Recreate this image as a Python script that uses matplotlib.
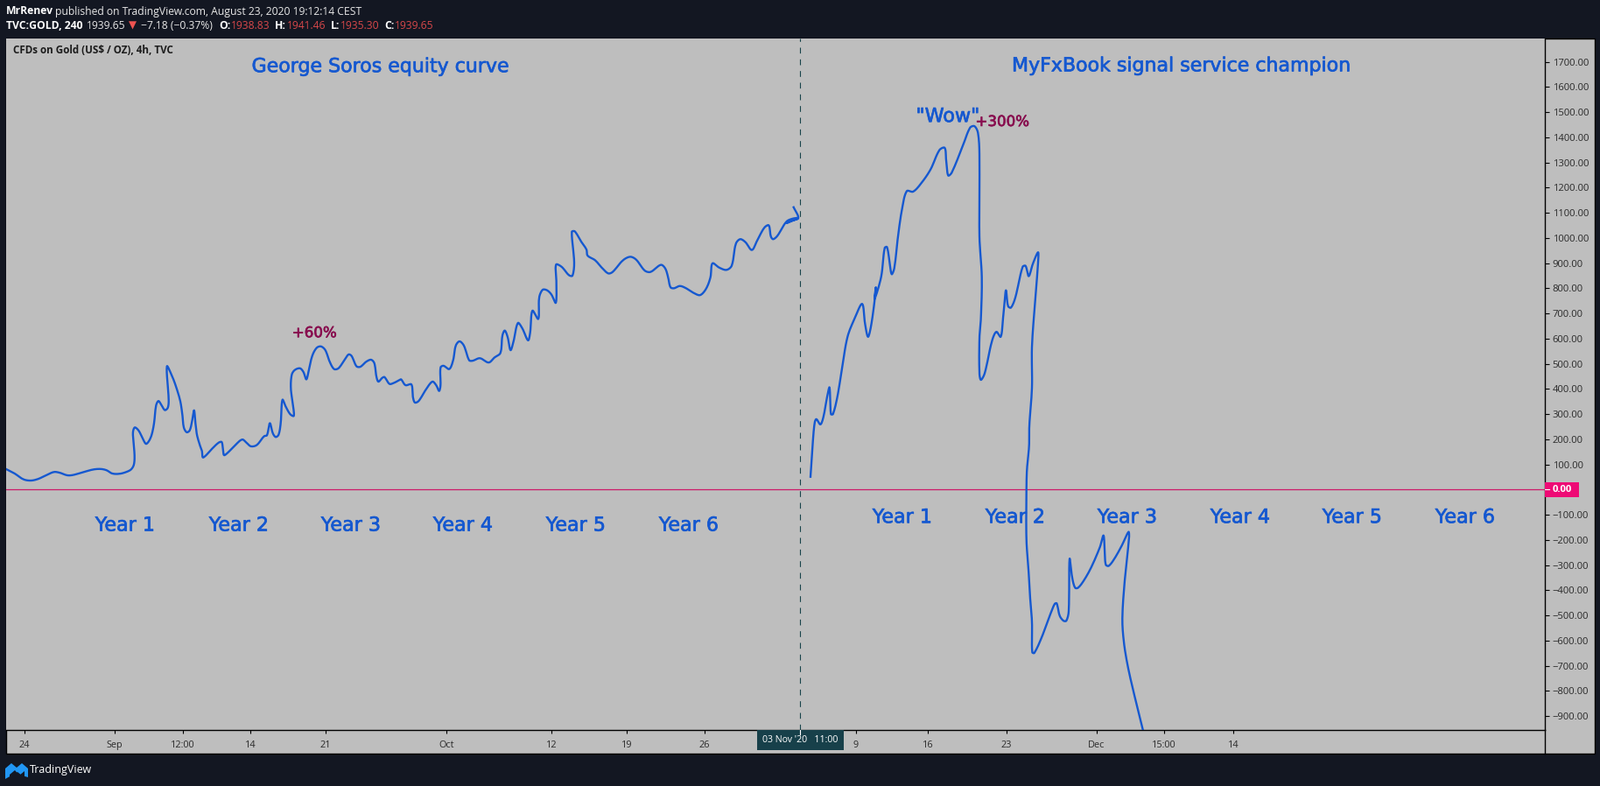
import numpy as np
import matplotlib
matplotlib.use('Agg')
import matplotlib.pyplot as plt
from matplotlib.patches import Rectangle, Polygon
from matplotlib.lines import Line2D
import matplotlib.patheffects as pe

# values: x is chart position (bars), y is price
soros_x = [7.3, 16.7, 26.7, 35, 43.3, 53.3, 61.7, 68.3, 76.7, 83.3, 96.7, 106.7, 115, 121.7, 128.3, 136.7, 145, 150, 153, 153.7,
           152.3, 152, 154, 158.3, 162.7, 166.7, 170, 173.3, 176, 178.3, 181, 184.3, 188.3, 191.7, 192.7, 190.7, 196.7, 201.7, 206, 208.3,
           210, 213.3, 216.7, 219.3, 221.7, 223.3, 225, 228.3, 230.7, 231.7, 235, 243.3, 250, 253.3, 254.7, 256, 260, 268.3, 276.7, 281.7,
           286.7, 293.3, 301.7, 305, 308.3, 311.7, 315, 318.3, 320.7, 322.7, 326.7, 331.7, 335.7, 334.3, 332.3, 333.3, 336.7, 342.7, 346.7, 350,
           352.7, 356.7, 361.7, 366.7, 371.7, 376.7, 381.7, 386.7, 393.3, 398.3, 401.7, 407.3, 411.7, 418.3, 424, 427.7, 430, 432.3, 436.7, 439.3,
           445, 450, 456.7, 458.3, 463.3, 470, 471.7, 474, 478.3, 486.7, 494, 498.3, 501.7, 503.3, 503.3, 506.7, 513.3, 517.7, 520.7, 525,
           530, 536, 540, 548.3, 558.3, 565, 571.7, 574, 576.7, 580, 583.3, 586.7, 591.7, 596.7, 603.3, 605.7, 608.3, 615, 616, 620,
           625, 630, 635, 635.7, 635.3, 641.7, 650, 654, 656, 653.3, 656.7, 663.3, 670, 671.3, 680, 688.3, 695, 700, 711.7, 720,
           726.7, 736.7, 743.3, 755, 760, 763.3, 766, 770, 776.7, 783.3, 793.3, 800, 806.7, 811.7, 814, 821.7, 830, 836, 840.7, 845.7,
           851.7, 859, 865, 873.3, 878.3, 880.7, 883.3, 888.3, 898.3, 905, 912, 898.7, 903.3, 912, 906.7]
soros_y = [81, 64, 41, 36, 42, 58, 70, 67, 57, 58, 71, 80, 82, 77, 64, 63, 71, 81, 100, 137,
           195, 230, 247, 235, 206, 182, 192, 218, 264, 334, 352, 337, 316, 325, 357, 490, 450, 403, 351, 299,
           247, 228, 235, 270, 315, 264, 218, 177, 154, 128, 135, 166, 187, 189, 160, 137, 146, 175, 199, 186,
           172, 177, 212, 216, 264, 224, 209, 218, 264, 357, 328, 299, 293, 345, 403, 456, 475, 482, 467, 438,
           473, 531, 563, 569, 554, 508, 479, 482, 514, 537, 531, 490, 488, 508, 516, 502, 450, 429, 444, 447,
           420, 424, 436, 438, 415, 418, 369, 346, 352, 398, 429, 415, 392, 415, 485, 492, 479, 514, 572, 589,
           572, 514, 512, 522, 505, 525, 543, 612, 632, 606, 554, 589, 662, 641, 593, 624, 711, 678, 763, 794,
           792, 775, 742, 821, 894, 885, 852, 850, 902, 1024, 1026, 989, 954, 930, 911, 879, 859, 865, 911, 925,
           914, 870, 865, 893, 879, 844, 804, 800, 809, 801, 780, 773, 798, 844, 899, 882, 873, 890, 977, 995,
           983, 952, 989, 1041, 1050, 1006, 995, 1009, 1064, 1076, 1079, 1059, 1067, 1079, 1122]

myfx_x = [926, 928.3, 930.7, 932.7, 937.3, 940.7, 945, 947.7, 949.3, 951.7, 956.7, 961.7, 968.3, 976.7, 985, 988.3, 991.7, 995, 999.3, 1000.7,
          999.3, 1006.7, 1010.7, 1013.3, 1016, 1018.7, 1021.7, 1026, 1030.7, 1036, 1043.3, 1053.3, 1063.3, 1073.3, 1079.3, 1081, 1083.3, 1087.3, 1100, 1108.3,
          1113.3, 1117.3, 1119, 1119, 1121.7, 1120.7, 1119, 1119, 1120.7, 1125, 1133.3, 1138.3, 1143.3, 1146, 1147.3, 1149.3, 1151.7, 1155, 1160, 1168.3,
          1171.7, 1175.3, 1180, 1186, 1186, 1182.7, 1179, 1179, 1176, 1175.7, 1173.3, 1172.7, 1172.7, 1175, 1176.7, 1179, 1179.3, 1181.7, 1190, 1200,
          1205, 1207.3, 1210.7, 1215, 1218.3, 1221, 1222, 1225, 1228.3, 1231.7, 1238.3, 1246.7, 1256.7, 1260.7, 1262, 1263.3, 1266.7, 1273.3, 1281.7, 1289.3,
          1290, 1285, 1282.3, 1284, 1288.3, 1295, 1306]
myfx_y = [51, 172, 265, 280, 259, 288, 369, 406, 300, 300, 369, 474, 607, 682, 738, 659, 607, 647, 752, 804,
          758, 845, 960, 964, 914, 856, 879, 1007, 1117, 1186, 1184, 1221, 1273, 1349, 1358, 1308, 1248, 1259, 1366, 1438,
          1444, 1418, 1331, 1007, 844, 682, 601, 462, 436, 462, 590, 627, 607, 682, 729, 792, 729, 723, 763, 885,
          889, 848, 897, 943, 902, 752, 566, 404, 253, 172, 80, -2, -199, -315, -419, -524, -646, -649, -588, -495,
          -454, -452, -501, -521, -521, -483, -275, -350, -390, -390, -361, -309, -228, -182, -234, -298, -303, -274, -222, -168,
          -188, -361, -512, -605, -698, -802, -958]

price_ticks = [1700, 1600, 1500, 1400, 1300, 1200, 1100, 1000, 900, 800, 700, 600, 500, 400, 300, 200, 100,
               -100, -200, -300, -400, -500, -600, -700, -800, -900]
time_ticks = [28, 131, 209, 286, 372, 510, 630, 716, 805, 891, 978, 1060, 1150, 1253, 1330, 1409]
time_labels = ['24', 'Sep', '12:00', '14', '21', 'Oct', '12', '19', '26', 'Nov', '9', '16', '23', 'Dec', '15:00', '14']

year_labels = ['Year 1', 'Year 2', 'Year 3', 'Year 4', 'Year 5', 'Year 6']
soros_year_x = [143, 273, 401, 529, 658, 787]
myfx_year_x = [1031, 1160, 1288, 1417, 1545, 1674]

W, H = 1828, 898
BG = '#131722'
PANEL = '#bebebe'
BLUE = '#1558d0'
MAROON = '#880e4f'
RED = '#d9484a'
FONT = 'Open Sans'
LABEL_FONT = 'DejaVu Sans'


def fx(x):
    return x / W


def fy(y):
    return 1 - y / H


def smooth(xs, ys, n=8):
    p = np.column_stack([xs, ys], ).astype(float)
    metric = np.array([1.0, 0.2875])
    d = np.hypot(*((p[1:] - p[:-1]) * metric).T)
    m = np.zeros_like(p)
    m[0] = (p[1] - p[0]) / d[0]
    m[-1] = (p[-1] - p[-2]) / d[-1]
    m[1:-1] = (p[2:] - p[:-2]) / (d[:-1] + d[1:])[:, None]
    out = [p[0]]
    for i in range(len(d)):
        t = np.linspace(0, 1, n + 1)[1:, None]
        h00 = 2 * t**3 - 3 * t**2 + 1
        h10 = t**3 - 2 * t**2 + t
        h01 = -2 * t**3 + 3 * t**2
        h11 = t**3 - t**2
        out.extend(h00 * p[i] + h10 * d[i] * m[i] + h01 * p[i + 1] + h11 * d[i] * m[i + 1])
    out = np.array(out)
    return out[:, 0], out[:, 1]


def label(x, y, s, color, size):
    ax.text(x, y, s, color=color, fontsize=size, fontfamily=LABEL_FONT, ha='center', va='center',
            path_effects=[pe.withStroke(linewidth=0.5, foreground=color)])


fig = plt.figure(figsize=(W / 100, H / 100), dpi=100, facecolor=BG)

# chart frame incl. the two axis strips
fig.add_artist(Rectangle((fx(6.5), fy(861)), fx(1815), 817.5 / H, transform=fig.transFigure,
                         facecolor=PANEL, edgecolor='black', linewidth=1.0, zorder=-1))

ax = fig.add_axes([fx(7), fy(834), fx(1758), 790.5 / H], facecolor=PANEL)
ax.set_xlim(7, 1765)
ax.set_ylim(-955, 1794)
for s in ['top', 'left']:
    ax.spines[s].set_visible(False)
for s in ['right', 'bottom']:
    ax.spines[s].set_linewidth(1.0)

ax.yaxis.tick_right()
ax.set_yticks(price_ticks)
ax.set_yticklabels([f'{p:.2f}'.replace('-', '\u2212') for p in price_ticks], fontsize=8.1,
                   color='#2a2a2a', fontfamily=FONT)
ax.tick_params(axis='y', length=3.6, width=0.8, pad=2.6, color='black')
ax.set_xticks(time_ticks)
ax.set_xticklabels(time_labels, fontsize=7.8, color='#2a2a2a', fontfamily=FONT)
ax.tick_params(axis='x', length=3, width=0.8, pad=5.5, color='black')

ax.axhline(0, color='#cc1a68', linewidth=0.9, zorder=2)
ax.axvline(914, color='#17434a', linewidth=0.8, linestyle=(0, (6, 6)), zorder=2)

ax.plot(*smooth(soros_x, soros_y), color=BLUE, linewidth=1.7, solid_joinstyle='round', zorder=3)
ax.plot(*smooth(myfx_x, myfx_y), color=BLUE, linewidth=1.7, solid_joinstyle='round', zorder=3)

label(435, 1680, 'George Soros equity curve', BLUE, 15.9)
label(1350, 1683, 'MyFxBook signal service champion', BLUE, 15.9)
for x, lab in zip(soros_year_x, year_labels):
    label(x, -143, lab, BLUE, 16)
for x, lab in zip(myfx_year_x, year_labels):
    label(x, -111, lab, BLUE, 16)
label(1083, 1482, '"Wow"', BLUE, 16)
label(359, 623, '+60%', MAROON, 12)
label(1145, 1462, '+300%', MAROON, 12)
ax.text(15, 1745, 'CFDs on Gold (US$ / OZ), 4h, TVC', color='#1c1c1c', fontsize=8.4, fontweight='bold',
        fontfamily=FONT, ha='left', va='center')

# right strip divider down to the bottom of the frame
fig.add_artist(Line2D([fx(1765), fx(1765)], [fy(834), fy(861)], color='black', linewidth=1.0))

# last price tag
fig.add_artist(Rectangle((fx(1765), fy(568)), fx(39), 17 / H, transform=fig.transFigure,
                         facecolor='#ee0a75', edgecolor='none', zorder=5))
fig.add_artist(Line2D([fx(1765), fx(1770)], [fy(559.3), fy(559.3)], color='white', linewidth=0.8, zorder=6))
fig.text(fx(1774), fy(559.5), '0.00', color='white', fontsize=8.1, fontweight='bold', fontfamily=FONT,
         va='center', ha='left', zorder=6)

# crosshair time tag
fig.add_artist(Rectangle((fx(865), fy(857)), fx(99), 23 / H, transform=fig.transFigure,
                         facecolor='#17404a', edgecolor='none', zorder=5))
fig.add_artist(Line2D([fx(914), fx(914)], [fy(834), fy(839)], color='white', linewidth=0.8, zorder=6))
fig.text(fx(914), fy(846), "03 Nov '20   11:00", color='white', fontsize=7.6,
         fontfamily=FONT, va='center', ha='center', zorder=6)

# header lines
header_top = [(7, 'MrRenev', 'white', 'bold'),
              (63, 'published on TradingView.com, August 23, 2020 19:12:14 CEST', '#e8e8e8', 'normal')]
header_bottom = [(7, 'TVC:GOLD, 240', 'white', 'bold'), (99, '1939.65', '#e8e8e8', 'normal'),
                 (161, '\u22127.18 (\u22120.37%)', '#e8e8e8', 'normal'), (250, 'O:', 'white', 'bold'),
                 (264, '1938.83', RED, 'normal'), (314, 'H:', 'white', 'bold'), (328, '1941.46', RED, 'normal'),
                 (378, 'L:', 'white', 'bold'), (389, '1935.30', RED, 'normal'), (439, 'C:', 'white', 'bold'),
                 (451, '1939.65', RED, 'normal')]
for x, s, c, w in header_top:
    fig.text(fx(x), fy(13), s, color=c, fontweight=w, fontsize=8.75, fontfamily=FONT, va='center', ha='left')
for x, s, c, w in header_bottom:
    fig.text(fx(x), fy(29.5), s, color=c, fontweight=w, fontsize=8.75, fontfamily=FONT, va='center', ha='left')
fig.text(fx(147), fy(29.5), '\u25bc', color='#ef5350', fontsize=8.5, fontfamily='DejaVu Sans', va='center', ha='left')

# footer logo and name
logo_a = [(6, 890), (6, 878), (13, 872), (19, 877), (25, 872), (32, 878), (32, 888), (25, 886), (20, 882), (13, 886)]
fig.add_artist(Polygon([(fx(x), fy(y)) for x, y in logo_a], closed=True, transform=fig.transFigure,
                       facecolor='#2196f3', edgecolor='none'))
logo_b = [(11, 885), (17, 880), (22, 886), (28, 881), (28, 887), (22, 890), (17, 885), (11, 889)]
fig.add_artist(Polygon([(fx(x), fy(y)) for x, y in logo_b], closed=True, transform=fig.transFigure,
                       facecolor='#131722', edgecolor='none'))
fig.text(fx(34), fy(880), 'TradingView', color='white', fontsize=9.0, fontfamily=FONT, va='center', ha='left')

fig.savefig('out.png', dpi=100, facecolor=BG)
